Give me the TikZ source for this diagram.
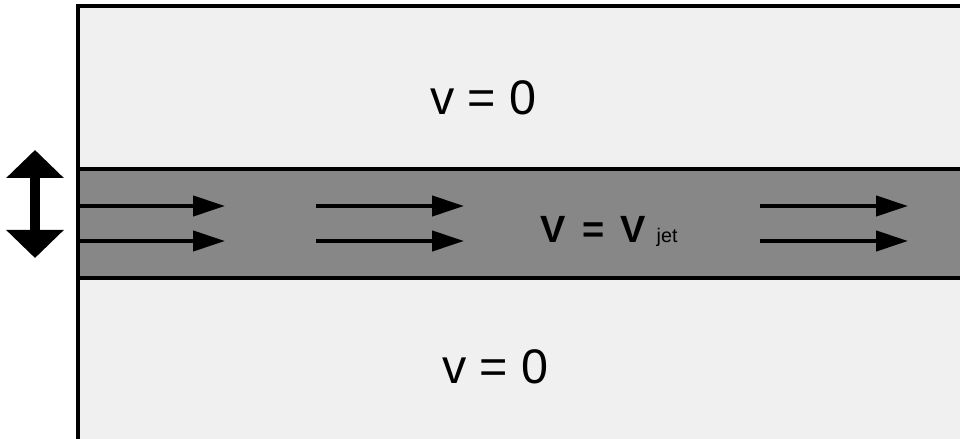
\documentclass[tikz,border=0pt]{standalone}
\usepackage{fontspec}
\setmainfont{Liberation Sans}
\usetikzlibrary{arrows.meta}

\begin{document}
\begin{tikzpicture}[>=Latex,line join=miter]
\definecolor{still}{RGB}{240,240,240}
\definecolor{jet}{RGB}{135,135,135}
\tikzset{
 flow/.style={line width=3pt,-{Triangle[length=0.8cm,width=0.5cm]}},
 label/.style={anchor=base west,inner sep=0pt,font=\fontsize{34.5}{40}\selectfont}
}
\useasboundingbox (0,0) rectangle (24,10.975);
\clip (0,0) rectangle (24,10.975);
% quiet fluid everywhere, the jet as a band through the middle
\draw[fill=still,line width=2.2pt] (1.95,-1) rectangle (25,10.825);
\draw[fill=jet,line width=2.2pt] (1.95,4.025) rectangle (25,6.75);
\node[label] (upper) at (10.75,8.1) {v = 0};
\node[label] (lower) at (11.05,1.375) {v = 0};
\node[label,font=\fontsize{27}{32}\selectfont\bfseries] (core) at (13.5,4.9)
 {V\hspace{0.45em}=\hspace{0.4em}V\hspace{0.3em}{\fontsize{14}{16}\selectfont\mdseries jet}};
\foreach \xa/\xb in {1.95/5.625,7.9/11.6,19.0/22.7}{
 \foreach \yy in {5.825,4.95}{
 \coordinate (s) at (\xa,\yy);
 \coordinate (e) at (\xb,\yy);
 \draw[flow] (s) -- (e);
 }
}
% jet width
\coordinate (wtop) at (0.875,7.225);
\coordinate (wbot) at (0.875,4.525);
\draw[line width=7pt,{Triangle[length=0.7cm,width=1.4cm]}-{Triangle[length=0.7cm,width=1.4cm]}]
 (wtop) -- (wbot);
\end{tikzpicture}
\end{document}
